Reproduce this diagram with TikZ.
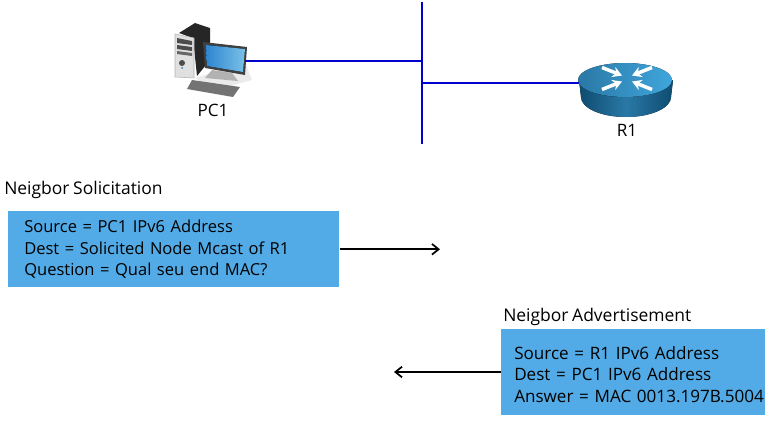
\documentclass[tikz,border=0pt]{standalone}
\usepackage{fontspec}
\setmainfont[WordSpace=0.8]{Open Sans}
\usetikzlibrary{arrows.meta, positioning, calc}
\definecolor{linkblue}{HTML}{0000CD}
\definecolor{boxblue}{HTML}{52ABE6}
\definecolor{routerdark}{HTML}{0E4C70}
\definecolor{routermid}{HTML}{2A78A6}
\definecolor{routerlight}{HTML}{3FA6DC}
\definecolor{screenblue}{HTML}{2F86D0}

\begin{document}
\begin{tikzpicture}[
    x=0.75pt, y=-0.75pt,
    link/.style={color=linkblue, line width=1.5pt},
    msgbox/.style={rectangle, fill=boxblue, anchor=north west, inner sep=0pt, font=\fontsize{12.8}{16.1}\selectfont, execute at begin node={\leftskip=#1}},
    title/.style={anchor=west, inner sep=0pt, font=\fontsize{13.1}{16}\selectfont},
    devlabel/.style={inner sep=0pt, font=\fontsize{12.8}{16}\selectfont},
    msgarrow/.style={-{Straight Barb[length=5pt, width=8pt]}, line width=1.3pt, color=black},
  ]
  \useasboundingbox (0,0) rectangle (777,425);

  % PC icon
  \fill[black!8] (195,78) -- (245,62) -- (252,80) -- (215,90) -- cycle;
  \fill[black!85] (179,33) -- (195,23) -- (210,28) -- (210,60) -- (197,76) -- (193,38) -- cycle;
  \fill[black!12, draw=black!30] (175,34) -- (194,38) -- (194,78) -- (175,77) -- cycle;
  \fill[black!70] (177,38) -- (192,41) -- (192,45) -- (177,43) -- cycle;
  \fill[black!70] (177,45) -- (192,47) -- (192,51) -- (177,49) -- cycle;
  \fill[black!60] (177,51) -- (192,53) -- (192,56) -- (177,54) -- cycle;
  \fill[black!70] (182,63) circle (3);
  \fill[screenblue] (182,68) circle (1);
  \fill[black!30] (212,70) -- (232,73) -- (238,81) -- (205,78) -- cycle;
  \fill[black!75] (203,42) -- (247,47) -- (245,75) -- (205,68) -- cycle;
  \fill[left color=screenblue, right color=routerlight!70!white] (206,45) -- (245,49) -- (243,72) -- (207,66) -- cycle;
  \fill[black!55] (192,80) -- (240,87) -- (233,97) -- (187,89) -- cycle;

  % router icon
  \fill[left color=routerdark, right color=routerdark, middle color=routermid] (579,80) -- (581,97) arc[start angle=180, end angle=0, x radius=45, y radius=20] -- (673,80) -- cycle;
  \fill[left color=routermid, right color=routerlight] (625,80) ellipse[x radius=47, y radius=17];
  \foreach \dx/\dy in {-1/-1, 1/-1, -1/1, 1/1}
    \draw[white, line width=2.6pt, -{Stealth[length=7pt, width=8pt]}] ($(627,78.5)+(\dx*25,\dy*11)$) -- ($(627,78.5)+(\dx*5,\dy*3)$);

  \node[devlabel] (pc1) at (213,110) {PC1};
  \node[devlabel] (r1) at (627,130) {R1};

  \coordinate (bustop) at (422,2);
  \coordinate (busbot) at (422,144);
  \coordinate (pc1port) at (245,61);
  \coordinate (r1port) at (579,83);
  \draw[link] (bustop) -- (busbot);
  \draw[link] (pc1port) -- (pc1port -| bustop);
  \draw[link] (r1port) -- (r1port -| bustop);

  \node[title] (nstitle) at (4,190) {Neigbor Solicitation};
  \node[msgbox=12pt, font=\fontsize{12.4}{16.1}\selectfont, minimum width=248.25pt, minimum height=57pt, text width=248.25pt] (nsbox) at (8,211) {Source = PC1 IPv6 Address\\Dest = Solicited Node Mcast of R1\\Question = Qual seu end MAC?\par\vspace*{3pt}};
  \node[title] (natitle) at (503,317) {Neigbor Advertisement};
  \node[msgbox=9.75pt, minimum width=198pt, minimum height=64.5pt, text width=198pt] (nabox) at (501,329) {\rule{0pt}{13pt}Source = R1 IPv6 Address\\Dest = PC1 IPv6 Address\\Answer = MAC 0013.197B.5004};

  \coordinate (nsend) at (440,249);
  \coordinate (naend) at (394,372);
  \draw[msgarrow] (nsbox.east) -- (nsbox.east -| nsend);
  \draw[msgarrow] (nabox.west |- naend) -- (naend);
\end{tikzpicture}
\end{document}
